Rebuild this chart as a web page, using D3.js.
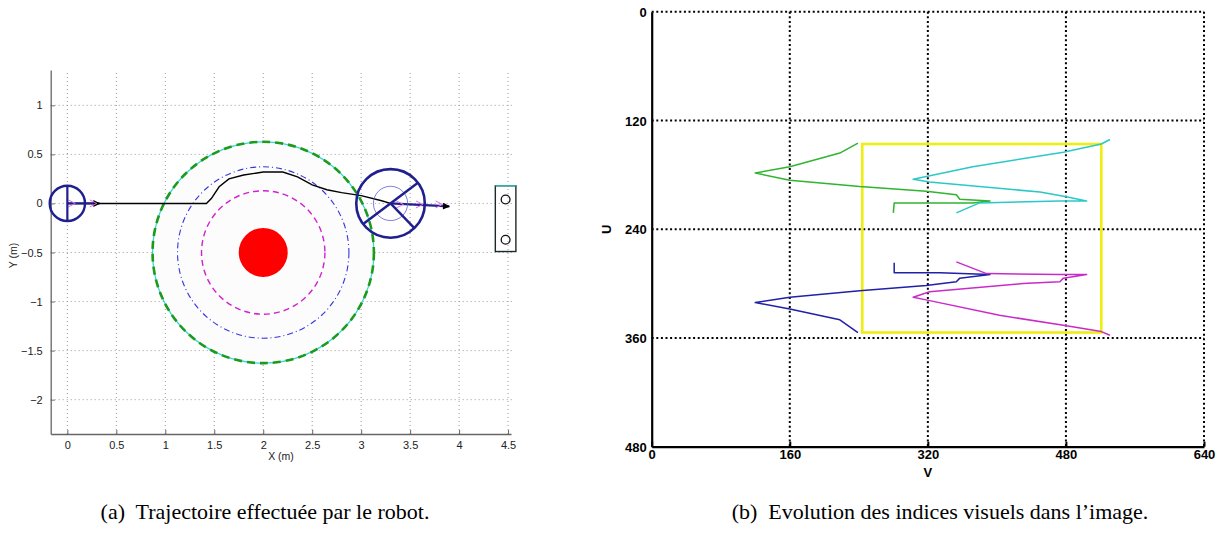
<!DOCTYPE html>
<html>
<head>
<meta charset="utf-8">
<script src="https://cdn.jsdelivr.net/npm/d3@7"></script>
<style>
  body { margin: 0; background: #fff; }
  svg { display: block; }
</style>
</head>
<body>
<div id="chart"></div>
<script>
// ---- left panel (a): robot trajectory, metres ----
const xTicksA = [0, 0.5, 1, 1.5, 2, 2.5, 3, 3.5, 4, 4.5];
const yTicksA = [1, 0.5, 0, -0.5, -1, -1.5, -2];
const obstacle = {x: 2, y: -0.5, r: 0.25};
const zoneRadii = [0.63, 0.875, 1.13];   // magenta, blue, green
const trajectory = [
    [0, 0], [0.5, 0], [1.0, 0], [1.42, 0], [1.47, 0.05], [1.55, 0.17], [1.65, 0.25],
    [1.8, 0.29], [2.0, 0.32], [2.2, 0.32], [2.35, 0.27], [2.5, 0.19], [2.65, 0.14],
    [2.8, 0.11], [3.0, 0.08], [3.2, 0.03], [3.3, 0.0]
];
const robotStart = {x: 0, y: 0, r: 0.18};
const robotEnd = {x: 3.3, y: 0, r: 0.35};
const target = {x0: 4.37, x1: 4.58, y0: -0.49, y1: 0.18, holes: [0.04, -0.37]};

// ---- right panel (b): image features, pixels ----
const vTicks = [0, 160, 320, 480, 640];
const uTicks = [0, 120, 240, 360, 480];
const desiredBox = {v0: 244, v1: 521, u0: 146, u1: 354};
const greenTrace = [[280,222],[281,211],[320,211],[372,211],[392,209],[357,207],[353,202],[318,198],[241,193],[160,186],[120,178],[160,171],[218,156],[239,145]];
const cyanTrace = [[353,222],[380,211],[473,209],[504,209],[479,204],[450,199],[322,188],[303,185],[372,171],[477,155],[521,146],[531,141]];
const blueTrace = [[281,277],[281,288],[334,288],[392,290],[357,294],[353,298],[318,302],[241,308],[160,315],[120,321],[160,328],[218,340],[239,354]];
const magentaTrace = [[353,276],[388,289],[473,290],[504,290],[477,294],[473,298],[430,300],[322,309],[303,315],[318,318],[403,335],[477,346],[521,353],[531,357]];

const captions = ["(a)  Trajectoire effectuée par le robot.", "(b)  Evolution des indices visuels dans l’image."];

const W = 1224, H = 535;
const NAVY = "#1f1f8f";

const svg = d3.select("#chart").append("svg")
    .attr("width", W).attr("height", H);

const defs = svg.append("defs");
defs.append("marker").attr("id", "tip").attr("viewBox", "0 0 10 10")
    .attr("refX", 9).attr("refY", 5).attr("markerWidth", 9).attr("markerHeight", 7)
    .attr("markerUnits", "userSpaceOnUse").attr("orient", "auto")
    .append("path").attr("d", "M0,0 L10,5 L0,10 z").attr("fill", "#000");

// ================= panel (a) =================
const xA = d3.scaleLinear().domain([-0.17, 4.53]).range([50.7, 511]);
const yA = d3.scaleLinear().domain([-2.35, 1.36]).range([434, 70]);
const gA = svg.append("g");
const fmtA = d => String(d).replace("-", "\u2212");

// grid
gA.selectAll("line.vg").data(xTicksA).enter().append("line")
    .attr("x1", d => xA(d)).attr("x2", d => xA(d))
    .attr("y1", yA(-2.35)).attr("y2", yA(1.36))
    .attr("stroke", "#999").attr("stroke-width", 1).attr("stroke-dasharray", "1,3");
gA.selectAll("line.hg").data(yTicksA).enter().append("line")
    .attr("y1", d => yA(d)).attr("y2", d => yA(d))
    .attr("x1", xA(-0.17)).attr("x2", xA(4.55))
    .attr("stroke", "#999").attr("stroke-width", 1).attr("stroke-dasharray", "1,3");

// axes
const axB = gA.append("g").attr("transform", `translate(0,${yA(-2.35)})`)
    .call(d3.axisBottom(xA).tickValues(xTicksA).tickSizeInner(-4).tickSizeOuter(0).tickPadding(7).tickFormat(fmtA));
const axL = gA.append("g").attr("transform", `translate(${xA(-0.17)},0)`)
    .call(d3.axisLeft(yA).tickValues(yTicksA).tickSizeInner(-4).tickSizeOuter(0).tickPadding(8).tickFormat(fmtA));
[axB, axL].forEach(ax => {
    ax.select(".domain").attr("stroke", "#666").attr("stroke-width", 1.3);
    ax.selectAll(".tick line").attr("stroke", "#666");
    ax.selectAll("text").attr("font-family", "Liberation Sans, Arial, sans-serif")
        .attr("font-size", 11).attr("fill", "#222");
});
gA.append("text").attr("x", 281).attr("y", 460).attr("text-anchor", "middle")
    .attr("font-family", "Liberation Sans, Arial, sans-serif").attr("font-size", 10.5).attr("fill", "#222")
    .text("X (m)");
gA.append("text").attr("transform", `translate(17,${yA(-0.53)}) rotate(-90)`).attr("text-anchor", "middle")
    .attr("font-family", "Liberation Sans, Arial, sans-serif").attr("font-size", 10.5).attr("fill", "#222")
    .text("Y (m)");

const px = d3.scaleLinear().domain([0, 1]).range([0, xA(1) - xA(0)]);   // metres -> pixels

// safety zones
gA.append("circle").attr("cx", xA(obstacle.x)).attr("cy", yA(obstacle.y)).attr("r", px(zoneRadii[2]))
    .attr("fill", "#fcfcfc").attr("stroke", "#33d6d6").attr("stroke-width", 1.2);
gA.append("circle").attr("cx", xA(obstacle.x)).attr("cy", yA(obstacle.y)).attr("r", px(zoneRadii[2]))
    .attr("fill", "none").attr("stroke", "#1c9a1c").attr("stroke-width", 2.6).attr("stroke-dasharray", "8,5");
gA.append("circle").attr("cx", xA(obstacle.x)).attr("cy", yA(obstacle.y)).attr("r", px(zoneRadii[1]))
    .attr("fill", "none").attr("stroke", "#3535e0").attr("stroke-width", 1.1).attr("stroke-dasharray", "6,3,1,3");
gA.append("circle").attr("cx", xA(obstacle.x)).attr("cy", yA(obstacle.y)).attr("r", px(zoneRadii[0]))
    .attr("fill", "none").attr("stroke", "#d020d0").attr("stroke-width", 1.4).attr("stroke-dasharray", "6,4");
gA.append("circle").attr("cx", xA(obstacle.x)).attr("cy", yA(obstacle.y)).attr("r", px(obstacle.r))
    .attr("fill", "#ff0000");

// trajectory
const lineA = d3.line().x(d => xA(d[0])).y(d => yA(d[1]));
gA.append("path").datum(trajectory).attr("d", lineA)
    .attr("fill", "none").attr("stroke", "#000").attr("stroke-width", 1.4);

// robots: start (small) and end (big)
function robot(g, r, big) {
    const cx = xA(r.x), cy = yA(r.y), rr = px(r.r);
    const arrowEnd = big ? 3.9 : 0.33;
    g.append("line").attr("x1", cx).attr("y1", cy).attr("x2", xA(arrowEnd)).attr("y2", cy + (big ? 3 : 0))
        .attr("stroke", NAVY).attr("stroke-width", 2.2).attr("marker-end", "url(#tip)");
    // small magenta heading markers
    const tri = big ? [r.x + 0.1, r.x + 0.3, r.x + 0.5] : [r.x + 0.05, r.x + 0.27];
    tri.forEach(t => {
        const tx = xA(t), ty = cy + (big ? 1 : 0);
        g.append("path").attr("d", `M${tx - 4},${ty - 3.5} L${tx + 3},${ty} L${tx - 4},${ty + 3.5}`)
            .attr("fill", "none").attr("stroke", "#e070e0").attr("stroke-width", 1);
    });
    g.append("circle").attr("cx", cx).attr("cy", cy).attr("r", rr)
        .attr("fill", "none").attr("stroke", NAVY).attr("stroke-width", big ? 2.6 : 2.4);
    if (big) {
        g.append("circle").attr("cx", cx).attr("cy", cy).attr("r", rr * 0.5)
            .attr("fill", "none").attr("stroke", "#6060d0").attr("stroke-width", 0.8);
        const a1 = 37 * Math.PI / 180, a2 = -46 * Math.PI / 180;
        g.append("line").attr("x1", cx - rr * Math.cos(a1)).attr("y1", cy + rr * Math.sin(a1))
            .attr("x2", cx + rr * Math.cos(a1)).attr("y2", cy - rr * Math.sin(a1))
            .attr("stroke", NAVY).attr("stroke-width", 2.4);
        g.append("line").attr("x1", cx).attr("y1", cy)
            .attr("x2", cx + rr * Math.cos(a2)).attr("y2", cy - rr * Math.sin(a2))
            .attr("stroke", NAVY).attr("stroke-width", 2.4);
    } else {
        g.append("line").attr("x1", cx).attr("y1", cy - rr).attr("x2", cx).attr("y2", cy + rr)
            .attr("stroke", NAVY).attr("stroke-width", 2.2);
    }
}
robot(gA, robotStart, false);
robot(gA, robotEnd, true);

// target
gA.append("rect").attr("x", xA(target.x0)).attr("y", yA(target.y1))
    .attr("width", xA(target.x1) - xA(target.x0)).attr("height", yA(target.y0) - yA(target.y1))
    .attr("fill", "none").attr("stroke", "#1a2a2a").attr("stroke-width", 1.4);
gA.append("line").attr("x1", xA(target.x0)).attr("x2", xA(target.x1))
    .attr("y1", yA(target.y1)).attr("y2", yA(target.y1)).attr("stroke", "#30c8c8").attr("stroke-width", 1.2);
gA.selectAll("circle.hole").data(target.holes).enter().append("circle")
    .attr("cx", xA((target.x0 + target.x1) / 2)).attr("cy", d => yA(d)).attr("r", px(0.045))
    .attr("fill", "none").attr("stroke", "#111").attr("stroke-width", 1.3);

// ================= panel (b) =================
const xB = d3.scaleLinear().domain([0, 640]).range([651.7, 1204]);
const yB = d3.scaleLinear().domain([0, 480]).range([11.7, 446.7]);
const gB = svg.append("g");

gB.selectAll("line.vg").data(vTicks.slice(1)).enter().append("line")
    .attr("x1", d => xB(d)).attr("x2", d => xB(d)).attr("y1", yB(0)).attr("y2", yB(480))
    .attr("stroke", "#000").attr("stroke-width", 2).attr("stroke-dasharray", "2,2.6");
gB.selectAll("line.hg").data(uTicks.slice(0, -1)).enter().append("line")
    .attr("y1", d => yB(d)).attr("y2", d => yB(d)).attr("x1", xB(0)).attr("x2", xB(640))
    .attr("stroke", "#000").attr("stroke-width", 2).attr("stroke-dasharray", "2,2.6");

const bx = gB.append("g").attr("transform", `translate(0,${yB(480)})`)
    .call(d3.axisBottom(xB).tickValues(vTicks).tickSizeInner(-5).tickSizeOuter(0).tickPadding(3));
const ly = gB.append("g").attr("transform", `translate(${xB(0)},0)`)
    .call(d3.axisLeft(yB).tickValues(uTicks).tickSizeInner(0).tickSizeOuter(0).tickPadding(5));
[bx, ly].forEach(ax => {
    ax.select(".domain").attr("stroke", "#000").attr("stroke-width", 2.2);
    ax.selectAll(".tick line").attr("stroke", "#000").attr("stroke-width", 2);
    ax.selectAll("text").attr("font-family", "Liberation Sans, Arial, sans-serif")
        .attr("font-size", 13).attr("font-weight", "bold").attr("fill", "#000");
});
ly.selectAll(".tick text").attr("dy", "0.35em");
gB.append("text").attr("x", xB(320)).attr("y", 477).attr("text-anchor", "middle")
    .attr("font-family", "Liberation Sans, Arial, sans-serif").attr("font-size", 13).attr("font-weight", "bold")
    .text("V");
gB.append("text").attr("transform", `translate(611,${yB(240)}) rotate(-90)`).attr("text-anchor", "middle")
    .attr("font-family", "Liberation Sans, Arial, sans-serif").attr("font-size", 13).attr("font-weight", "bold")
    .text("U");

// desired feature positions
gB.append("rect").attr("x", xB(desiredBox.v0)).attr("y", yB(desiredBox.u0))
    .attr("width", xB(desiredBox.v1) - xB(desiredBox.v0)).attr("height", yB(desiredBox.u1) - yB(desiredBox.u0))
    .attr("fill", "none").attr("stroke", "#eeee10").attr("stroke-width", 2.6);

const lineB = d3.line().x(d => xB(d[0])).y(d => yB(d[1]));
[[greenTrace, "#2fb52f"], [cyanTrace, "#2cc8c8"], [blueTrace, "#2020a8"], [magentaTrace, "#c82cc8"]]
    .forEach(([data, col]) => {
        gB.append("path").datum(data).attr("d", lineB)
            .attr("fill", "none").attr("stroke", col).attr("stroke-width", 1.5).attr("stroke-linejoin", "round");
    });

// captions
svg.selectAll("text.cap").data(captions).enter().append("text")
    .attr("x", (d, i) => i === 0 ? 265 : 940).attr("y", 519).attr("text-anchor", "middle")
    .attr("font-family", "Liberation Serif, DejaVu Serif, serif").attr("font-size", 22).attr("fill", "#000")
    .attr("xml:space", "preserve").style("white-space", "pre")
    .text(d => d);
</script>
</body>
</html>
